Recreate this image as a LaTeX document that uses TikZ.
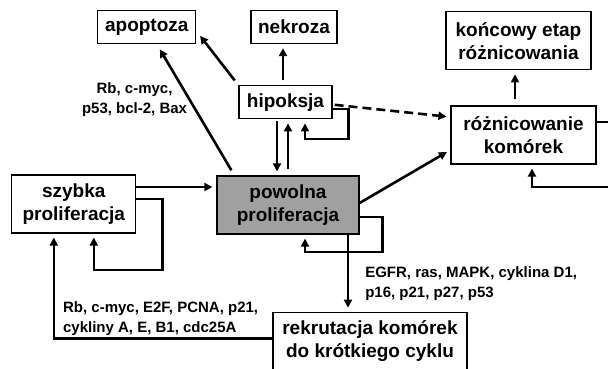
\documentclass[tikz,border=0pt]{standalone}
\usepackage{fontspec}
\setmainfont{Liberation Sans}
\usetikzlibrary{positioning,calc}
\usetikzlibrary{arrows.meta}
\definecolor{slowgray}{RGB}{160,160,160}
\tikzset{
  bx/.style={rectangle, draw=black, line width=1.2pt, fill=white, text centered, align=center, inner sep=2pt, font=\fontsize{19}{23}\selectfont\bfseries},
  bxg/.style={bx, fill=slowgray},
  lb/.style={font=\fontsize{15}{20}\selectfont\bfseries, inner sep=1pt},
  node distance=7mm
}

\begin{document}
\begin{tikzpicture}[x=1pt, y=1pt, line width=2.6pt, >={Triangle[length=8pt,width=8pt]}, shorten >=4pt]
	\useasboundingbox (0,0) rectangle (608,-368);
	\clip (0,0) rectangle (608,-368);
	\node[bxg, minimum width=142pt, minimum height=58pt] (powolna) at (288,-205) {powolna\\proliferacja};
	\node[bx, minimum width=93pt, minimum height=33pt, above=56pt of powolna, xshift=-2.5pt] (hipoksja) {hipoksja};
	\node[bx, minimum width=86pt, minimum height=33pt, above=41pt of hipoksja, xshift=8.5pt] (nekroza) {nekroza};
	\node[bx, minimum width=98pt, minimum height=33pt, left=54pt of nekroza] (apoptoza) {apoptoza};
	\node[bx, minimum width=124pt, minimum height=58pt, left=80pt of powolna, yshift=1pt] (szybka) {szybka\\proliferacja};
	\node[bx, minimum width=194pt, minimum height=58pt, below=77pt of powolna, xshift=82pt] (rekrutacja) {rekrutacja komórek\\do krótkiego cyklu};
	\node[bx, minimum width=145pt, minimum height=58pt] (rozn) at (523.5,-135) {różnicowanie\\komórek};
	\node[bx, minimum width=145pt, minimum height=58pt, above=35pt of rozn, xshift=-5pt] (koncowy) {końcowy etap\\różnicowania};
	%
	\draw[->, shorten <=6pt, shorten >=6pt] ($(powolna.north west)+(18,0)$) -- node[pos=0.58, left, lb, align=center] {Rb, c-myc,\\p53, bcl-2, Bax} ($(apoptoza.south)+(10,0)$);
	\draw[->, shorten <=6pt, shorten >=6pt] (hipoksja.north west) -- ($(apoptoza.east)+(0,-4)$);
	\draw[->, shorten <=5pt] ($(hipoksja.north)+(-2.5,0)$) -- ($(nekroza.south)+(-11,0)$);

	\draw[->, shorten <=2pt] ($(hipoksja.south)+(-8.5,0)$) -- ($(powolna.north)+(-11,0)$);
	\draw[->, shorten <=6pt] (powolna.north) -- ($(hipoksja.south)+(2.5,0)$);
	\draw[->] ($(hipoksja.east)+(0,-6.5)$) -- ++(16,0) -- ++(0,-30) -| ($(hipoksja.south)+(19.5,0)$);
	\draw[->, dash pattern=on 9pt off 5pt] ($(hipoksja.east)+(2,-2.5)$) -- ($(rozn.west)+(0,18)$);

	\draw[->] ($(powolna.east)+(0,2)$) -- ($(rozn.west)+(0,-15)$);
	\draw[->, shorten <=6pt] ($(rozn.north)+(-8.5,0)$) -- ($(koncowy.south)+(-3.5,0)$);
	\draw[->] ($(rozn.east)+(0,13)$) -- ++(20,0) -- ++(0,-65) -| ($(rozn.south)+(8.5,0)$);

	\draw[->] ($(szybka.east)+(0,17)$) -- ($(powolna.west)+(0,18)$);
	\draw[->] ($(szybka.east)+(0,5)$) -- ++(26,0) -- ++(0,-71) -| ($(szybka.south)+(20,0)$);
	\draw[->] ($(powolna.east)+(0,-12)$) -- ++(23,0) -- ++(0,-35) -| ($(powolna.south)+(17,0)$);
	\draw[->] ($(powolna.south)+(60,0)$) -- node[pos=0.64, right=15pt, lb, align=left] {EGFR, ras, MAPK, cyklina D1,\\p16, p21, p27, p53} ($(rekrutacja.north)+(-22,0)$);
	\draw[->] ($(rekrutacja.west)+(0,3)$) -| node[pos=0.5, anchor=south west, xshift=7pt, lb, align=left] {Rb, c-myc, E2F, PCNA, p21,\\cykliny A, E, B1, cdc25A} ($(szybka.south)+(-20,0)$);
\end{tikzpicture}
\end{document}
